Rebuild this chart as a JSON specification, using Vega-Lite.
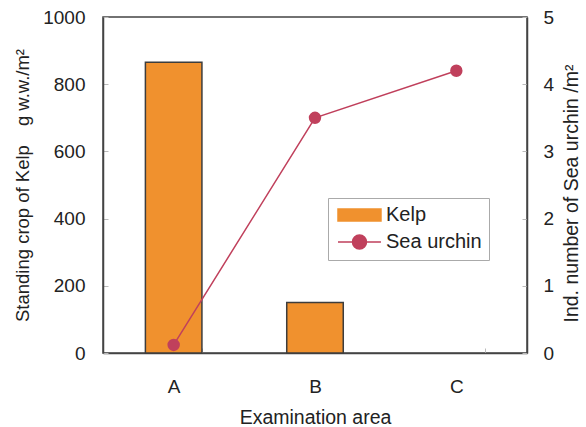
{
  "$schema": "https://vega.github.io/schema/vega-lite/v6.json",
  "width": 424,
  "height": 336,
  "autosize": {"type": "none"},
  "padding": {"left": 103, "top": 17, "right": 59, "bottom": 74},
  "background": "white",
  "config": {
    "font": "Liberation Sans",
    "view": {"stroke": "#444", "strokeWidth": 1.5},
    "axis": {
      "domainColor": "#444",
      "domainWidth": 1.5,
      "tickColor": "#bbb",
      "tickWidth": 1,
      "labelColor": "#222",
      "titleColor": "#222",
      "titleFontWeight": "normal",
      "grid": false
    }
  },
  "data": {
    "values": [
      {"area": "A", "series": "Kelp", "value": 865},
      {"area": "B", "series": "Kelp", "value": 150},
      {"area": "A", "series": "Sea urchin", "value": 0.12},
      {"area": "B", "series": "Sea urchin", "value": 3.5},
      {"area": "C", "series": "Sea urchin", "value": 4.2}
    ]
  },
  "encoding": {
    "x": {
      "field": "area",
      "type": "nominal",
      "scale": {"domain": ["A", "B", "C"], "paddingInner": 0.6, "paddingOuter": 0.3},
      "axis": {
        "title": "Examination area",
        "titleFontSize": 19.5,
        "titlePadding": 12,
        "labelFontSize": 19,
        "labelAngle": 0,
        "labelPadding": 29,
        "tickBand": "extent",
        "tickSize": -5
      }
    },
    "color": {
      "field": "series",
      "type": "nominal",
      "scale": {"domain": ["Kelp", "Sea urchin"], "range": ["#f0912e", "#c0405c"]},
      "legend": {
        "title": null,
        "orient": "none",
        "legendX": 225,
        "legendY": 181,
        "strokeColor": "#aaa",
        "padding": 7,
        "labelFontSize": 20,
        "labelColor": "#222",
        "labelOffset": 31,
        "symbolSize": 196,
        "symbolStrokeWidth": 1.5,
        "rowPadding": 6,
        "encode": {
          "symbols": {
            "update": {
              "shape": {"signal": "datum.value === 'Kelp' ? 'M-1,-0.857H5.14V0.857H-1Z' : 'M-1,0H5.14M1.07,0A1,1 0 1,0 3.07,0A1,1 0 1,0 1.07,0Z'"},
              "fill": {"signal": "datum.value === 'Kelp' ? '#f0912e' : '#c0405c'"},
              "stroke": {"signal": "datum.value === 'Kelp' ? '#3d3d3d' : '#c0405c'"},
              "strokeWidth": {"value": 1.5},
              "opacity": {"value": 1},
              "fillOpacity": {"value": 1},
              "strokeOpacity": {"value": 1}
            }
          }
        }
      }
    }
  },
  "layer": [
    {
      "transform": [{"filter": "datum.series === 'Kelp'"}],
      "mark": {"type": "bar", "stroke": "#3d3d3d", "strokeWidth": 1.5},
      "encoding": {
        "y": {
          "field": "value",
          "type": "quantitative",
          "scale": {"domain": [0, 1000], "nice": false},
          "axis": {
            "orient": "left",
            "title": "Standing crop of Kelp　g w.w./m²",
            "titleFontSize": 18.5,
            "titlePadding": 10,
            "values": [0, 200, 400, 600, 800, 1000],
            "format": "d",
            "labelFontSize": 19,
            "labelPadding": 23,
            "tickSize": -5
          }
        }
      }
    },
    {
      "transform": [{"filter": "datum.series === 'Sea urchin'"}],
      "encoding": {
        "y": {
          "field": "value",
          "type": "quantitative",
          "scale": {"domain": [0, 5], "nice": false},
          "axis": {
            "orient": "right",
            "title": "Ind. number of Sea urchin /m²",
            "titleFontSize": 19.5,
            "titleAngle": 270,
            "titlePadding": 28,
            "titleY": 176,
            "values": [0, 1, 2, 3, 4, 5],
            "labelFontSize": 19,
            "labelPadding": 21,
            "tickSize": -5
          }
        }
      },
      "layer": [
        {
          "mark": {"type": "line", "strokeWidth": 1.5}
        },
        {
          "mark": {"type": "point", "filled": true, "size": 154, "opacity": 1}
        }
      ]
    }
  ],
  "resolve": {"scale": {"y": "independent"}}
}
